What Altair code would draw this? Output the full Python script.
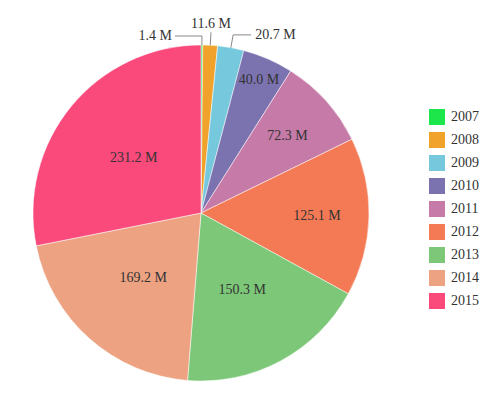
import math
import altair as alt
import pandas as pd

# ---- data ----
years = ["2007", "2008", "2009", "2010", "2011", "2012", "2013", "2014", "2015"]
values = [1.4, 11.6, 20.7, 40.0, 72.3, 125.1, 150.3, 169.2, 231.2]
colors = ["#1de64a", "#f0a22a", "#76c8dc", "#7b72b0", "#c67aa8",
          "#f47a56", "#7cc878", "#eda282", "#fa4a7c"]
labels = [f"{v:.1f} M" for v in values]

# ---- layout / style ----
CX, CY, R = 193, 205, 168
FONT = "Liberation Serif"
TEXT_COLOR = "#333333"
# outside-label leader style for the small slices: (elbow extra radius, horizontal dx)
leader_style = {"2007": (9, -27), "2008": (13, 0), "2009": (13, 18)}

df = pd.DataFrame({"year": years, "value": values, "label": labels})
df["inner"] = [l if v >= 30 else "" for l, v in zip(labels, values)]
total = sum(values)

# leader lines and outer labels computed from the slice angles
cum = 0.0
line_rows, text_rows = [], []
for y, v, l in zip(years, values, labels):
    mid = (cum + v / 2) / total * 2 * math.pi
    cum += v
    if y not in leader_style:
        continue
    extra, dx = leader_style[y]
    p0 = (CX + R * math.sin(mid), CY - R * math.cos(mid))
    p1 = (CX + (R + extra) * math.sin(mid), CY - (R + extra) * math.cos(mid))
    p2 = (p1[0] + dx, p1[1])
    for i, p in enumerate([p0, p1, p2]):
        line_rows.append({"year": y, "i": i, "px": p[0], "py": p[1]})
    if dx < 0:
        text_rows.append({"label": l, "tx": p2[0] - 3, "ty": p2[1], "al": "right", "bl": "middle"})
    elif dx > 0:
        text_rows.append({"label": l, "tx": p2[0] + 4, "ty": p2[1], "al": "left", "bl": "middle"})
    else:
        text_rows.append({"label": l, "tx": p2[0], "ty": p2[1] - 1, "al": "center", "bl": "bottom"})

lines_df = pd.DataFrame(line_rows)
outer_df = pd.DataFrame(text_rows)

base = alt.Chart(df)

pie = base.mark_arc(outerRadius=R, stroke="white", strokeWidth=0.5).encode(
    theta=alt.Theta("value:Q", stack=True),
    color=alt.Color(
        "year:N",
        scale=alt.Scale(domain=years, range=colors),
        legend=alt.Legend(
            title=None, orient="none", legendX=421, legendY=101,
            symbolType="square", symbolSize=256, symbolStrokeWidth=0,
            labelFont=FONT, labelFontSize=14, labelColor=TEXT_COLOR,
            rowPadding=7, labelOffset=6, padding=0,
        ),
    ),
    order=alt.Order("year:N"),
    x=alt.value(CX),
    y=alt.value(CY),
)

inner = base.transform_window(
    cum="sum(value)", sort=[alt.SortField("year")], frame=[None, 0]
).transform_calculate(
    mid="datum.cum - datum.value / 2",
    lr="datum.value > 140 ? 87 : (datum.value > 60 ? 116 : 145)",
).mark_text(font=FONT, fontSize=14, color=TEXT_COLOR).encode(
    theta=alt.Theta("mid:Q", stack=None, scale=alt.Scale(domain=[0, total])),
    radius=alt.Radius("lr:Q", scale=None),
    text="inner:N",
    x=alt.value(CX),
    y=alt.value(CY),
)

leaders = alt.Chart(lines_df).mark_line(color="#888888", strokeWidth=1).encode(
    x=alt.X("px:Q", scale=None, axis=None),
    y=alt.Y("py:Q", scale=None, axis=None),
    detail="year:N",
    order="i:O",
)

outer_parts = []
for al in ["left", "right", "center"]:
    sub = outer_df[outer_df["al"] == al]
    if len(sub) == 0:
        continue
    bl = sub["bl"].iloc[0]
    outer_parts.append(
        alt.Chart(sub).mark_text(font=FONT, fontSize=14, color=TEXT_COLOR, align=al, baseline=bl).encode(
            x=alt.X("tx:Q", scale=None, axis=None),
            y=alt.Y("ty:Q", scale=None, axis=None),
            text="label:N",
        )
    )

chart = alt.layer(pie, inner, leaders, *outer_parts).properties(
    width=480, height=380, padding=0
).resolve_scale(theta="independent").configure_view(stroke=None)

chart.save("out.html", embed_options={"renderer": "svg", "actions": False})
